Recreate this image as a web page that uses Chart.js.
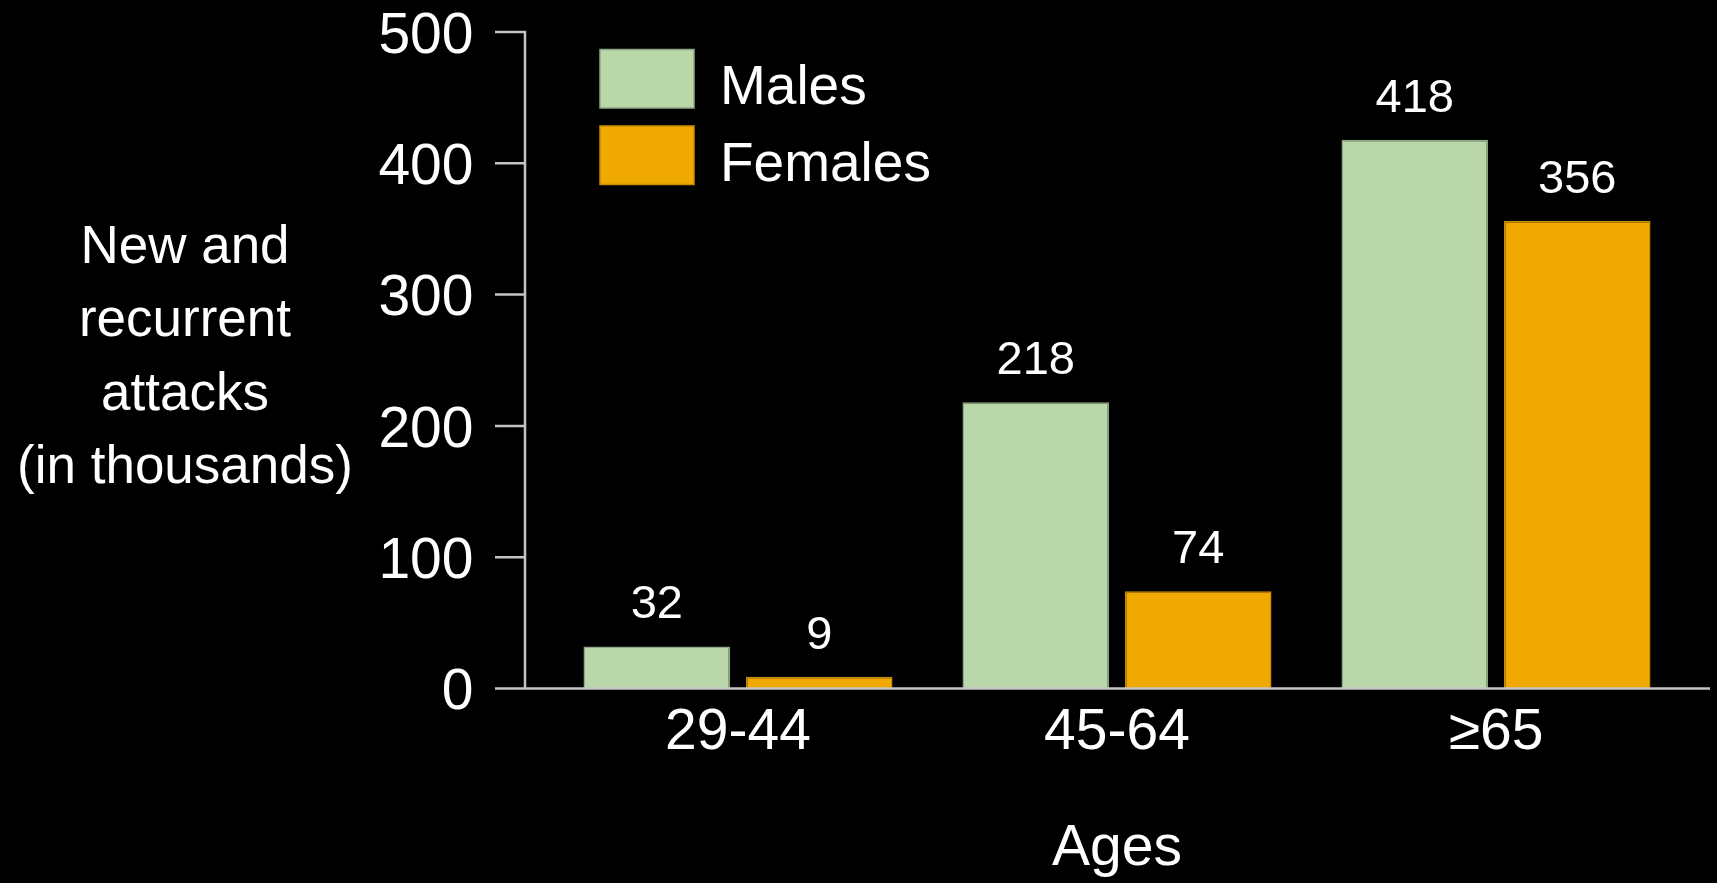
<!DOCTYPE html>
<html>
<head>
<meta charset="utf-8">
<title>New and recurrent attacks by age</title>
<script src="https://cdn.jsdelivr.net/npm/chart.js@4.4.1/dist/chart.umd.min.js"></script>
<style>
  html, body { margin: 0; padding: 0; background: #000; }
  #wrap { width: 1717px; height: 883px; }
</style>
</head>
<body>
<div id="wrap"><canvas id="chart" width="1717" height="883"></canvas></div>
<script>
// Age groups and attack counts (thousands)
const categories = ['29-44', '45-64', '\u226565'];
const males = [32, 218, 418];
const females = [9, 74, 356];
const seriesNames = ['Males', 'Females'];
const yTickValues = [0, 100, 200, 300, 400, 500];
const yTitleLines = ['New and', 'recurrent', 'attacks', '(in thousands)'];
const xTitle = 'Ages';

const FONT = '"Liberation Sans", Arial, Helvetica, sans-serif';
const AXIS_COLOR = '#c4c4c4';
const MALE_FILL = '#b9d7a8';
const MALE_EDGE = '#8fa686';
const FEMALE_FILL = '#f0a900';
const FEMALE_EDGE = '#c98d00';

// Black page background
const background = {
  id: 'background',
  beforeDraw(chart) {
    const ctx = chart.ctx;
    ctx.save();
    ctx.fillStyle = '#000';
    ctx.fillRect(0, 0, chart.width, chart.height);
    ctx.restore();
  }
};

// Axis frame: vertical axis with outward ticks and the zero baseline
const axisFrame = {
  id: 'axisFrame',
  afterDatasetsDraw(chart) {
    const ctx = chart.ctx;
    const y = chart.scales.y;
    const axisX = chart.chartArea.left - 23.5;
    const tickStart = axisX - 30;
    const top = y.getPixelForValue(yTickValues[yTickValues.length - 1]);
    const zero = y.getPixelForValue(0);
    ctx.save();
    ctx.strokeStyle = AXIS_COLOR;
    ctx.lineWidth = 2.5;
    ctx.beginPath();
    ctx.moveTo(axisX, top - 1.25);
    ctx.lineTo(axisX, zero);
    yTickValues.forEach(v => {
      const py = y.getPixelForValue(v);
      ctx.moveTo(tickStart, py);
      ctx.lineTo(axisX, py);
    });
    ctx.moveTo(tickStart, zero);
    ctx.lineTo(chart.chartArea.right + 24.5, zero);
    ctx.stroke();
    ctx.restore();
  }
};

// Value printed above each bar
const valueLabels = {
  id: 'valueLabels',
  afterDatasetsDraw(chart) {
    const ctx = chart.ctx;
    ctx.save();
    ctx.fillStyle = '#fff';
    ctx.font = '47px ' + FONT;
    ctx.textAlign = 'center';
    ctx.textBaseline = 'alphabetic';
    chart.data.datasets.forEach((ds, i) => {
      chart.getDatasetMeta(i).data.forEach((bar, j) => {
        ctx.fillText(String(ds.data[j]), bar.x, bar.y - 28);
      });
    });
    ctx.restore();
  }
};

// Horizontal, multi-line title for the value axis
const yTitle = {
  id: 'yTitle',
  afterDraw(chart) {
    const ctx = chart.ctx;
    ctx.save();
    ctx.fillStyle = '#fff';
    ctx.font = '53px ' + FONT;
    ctx.textAlign = 'center';
    ctx.textBaseline = 'alphabetic';
    yTitleLines.forEach((line, i) => {
      ctx.fillText(line, 185, 263 + i * 73.3);
    });
    ctx.restore();
  }
};

// Legend drawn inside the plot, top-left
const boxLegend = {
  id: 'boxLegend',
  afterDraw(chart) {
    const ctx = chart.ctx;
    const left = chart.chartArea.left + 51.5;
    ctx.save();
    ctx.font = '55px ' + FONT;
    ctx.textAlign = 'left';
    ctx.textBaseline = 'alphabetic';
    chart.data.datasets.forEach((ds, i) => {
      const top = 49.5 + i * 76.5;
      ctx.fillStyle = ds.backgroundColor;
      ctx.fillRect(left, top, 94, 58.5);
      ctx.strokeStyle = ds.borderColor;
      ctx.lineWidth = 1.5;
      ctx.strokeRect(left, top, 94, 58.5);
      ctx.fillStyle = '#fff';
      ctx.fillText(ds.label, left + 120, top + 54.5);
    });
    ctx.restore();
  }
};

new Chart(document.getElementById('chart'), {
  type: 'bar',
  data: {
    labels: categories,
    datasets: [
      {
        label: seriesNames[0],
        data: males,
        backgroundColor: MALE_FILL,
        borderColor: MALE_EDGE,
        borderWidth: 1.5,
        categoryPercentage: 0.857,
        barPercentage: 0.903
      },
      {
        label: seriesNames[1],
        data: females,
        backgroundColor: FEMALE_FILL,
        borderColor: FEMALE_EDGE,
        borderWidth: 1.5,
        categoryPercentage: 0.857,
        barPercentage: 0.903
      }
    ]
  },
  options: {
    responsive: false,
    animation: false,
    devicePixelRatio: 1,
    layout: { padding: { left: 0, right: 31.5, top: 32, bottom: 0 } },
    plugins: {
      legend: { display: false },
      tooltip: { enabled: false }
    },
    scales: {
      x: {
        grid: { display: false, drawTicks: false },
        border: { display: false },
        ticks: {
          color: '#fff',
          font: { family: FONT, size: 57 },
          padding: 11,
          maxRotation: 0
        },
        title: {
          display: true,
          text: xTitle,
          color: '#fff',
          font: { family: FONT, size: 57 },
          padding: { top: 0, bottom: 0 }
        },
        afterFit(scale) {
          scale.height = 194.5;
          scale.paddingLeft = 0;
          scale.paddingRight = 0;
        }
      },
      y: {
        min: 0,
        max: 500,
        grid: { display: false, drawTicks: false },
        border: { display: false },
        afterBuildTicks(scale) {
          scale.ticks = yTickValues.map(v => ({ value: v }));
        },
        ticks: {
          color: '#fff',
          font: { family: FONT, size: 57 },
          padding: 75,
          labelOffset: 5
        },
        afterFit(scale) {
          scale.width = 548.5;
          scale.paddingTop = 0;
          scale.paddingBottom = 0;
        }
      }
    }
  },
  plugins: [background, axisFrame, valueLabels, yTitle, boxLegend]
});
</script>
</body>
</html>
